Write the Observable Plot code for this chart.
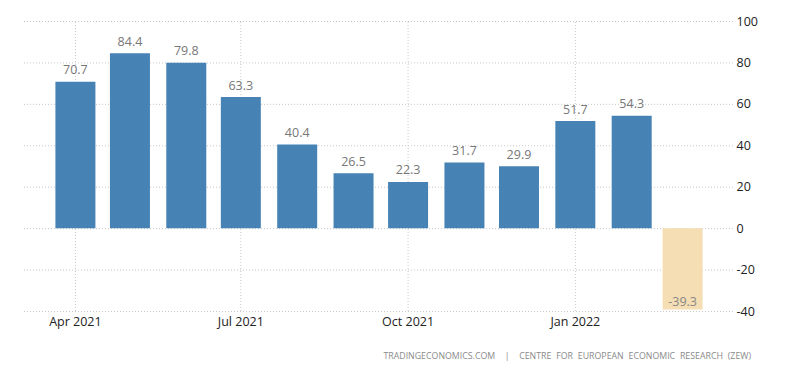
<!DOCTYPE html>
<html><head><meta charset="utf-8">
<script src="https://cdn.jsdelivr.net/npm/d3@7"></script>
<script src="https://cdn.jsdelivr.net/npm/@observablehq/plot@0.6"></script>
<style>
body{margin:0;background:#fff;font-family:"Open Sans",sans-serif;}
#cap{width:800px;height:33px;position:relative;}
#cap span{position:absolute;right:49px;top:10px;font-size:8.8px;color:#8a8a8a;letter-spacing:0;word-spacing:2.5px;white-space:nowrap;}
</style></head>
<body><div id="chart"></div><div id="cap"><span>TRADINGECONOMICS.COM &nbsp;|&nbsp; CENTRE FOR EUROPEAN ECONOMIC RESEARCH (ZEW)</span></div>
<script>
const months = ["2021-04-01","2021-05-01","2021-06-01","2021-07-01","2021-08-01","2021-09-01","2021-10-01","2021-11-01","2021-12-01","2022-01-01","2022-02-01","2022-03-01"];
const values = [70.7, 84.4, 79.8, 63.3, 40.4, 26.5, 22.3, 31.7, 29.9, 51.7, 54.3, -39.3];
const xTicks = ["2021-04-01","2021-07-01","2021-10-01","2022-01-01"];
const yTicks = [-40, -20, 0, 20, 40, 60, 80, 100];
const xDomain = ["2021-03-04","2022-03-29"];

const data = months.map((m, i) => ({date: new Date(m), value: values[i], last: i === months.length - 1}));
const tickDates = xTicks.map(d => new Date(d));
const fmt = d3.utcFormat("%b %Y");

const plot = Plot.plot({
  width: 800,
  height: 340,
  marginTop: 21,
  marginBottom: 29,
  marginLeft: 24,
  marginRight: 67,
  style: {fontFamily: "'Open Sans', sans-serif", fontSize: "12px", color: "#333"},
  x: {type: "utc", domain: xDomain.map(d => new Date(d)), axis: null},
  y: {domain: [-40, 100], axis: null},
  marks: [
    Plot.gridY(yTicks, {stroke: "#c8c8c8", strokeOpacity: 1, strokeDasharray: "1,2", x1: new Date(xDomain[0]), x2: new Date(xDomain[1])}),
    Plot.ruleX(tickDates, {stroke: "#c8c8c8", strokeDasharray: "1,2", y1: -40, y2: 100}),
    Plot.ruleX(data, {x: "date", y1: 0, y2: "value", stroke: d => d.last ? "#f5deb3" : "#4682b4", strokeWidth: 40, strokeLinecap: "butt"}),
    Plot.text(data, {x: "date", y: "value", text: d => d.value.toFixed(1), fill: "#777", fontSize: 12.5, lineAnchor: "bottom", filter: d => d.value >= 0, dy: -8}),
    Plot.text(data, {x: "date", y: "value", text: d => d.value.toFixed(1), fill: "#888", fontSize: 12.5, lineAnchor: "bottom", filter: d => d.value < 0, dy: -4}),
    Plot.text(tickDates, {x: d => d, y: -40, text: d => fmt(d), fill: "#222", fontSize: 12.5, lineAnchor: "top", dy: 6}),
    Plot.text(yTicks, {y: d => d, x: new Date(xDomain[1]), text: d => String(d), fill: "#222", fontSize: 12.5, textAnchor: "start", dx: 3})
  ]
});
document.getElementById("chart").appendChild(plot);
</script>
</body></html>
